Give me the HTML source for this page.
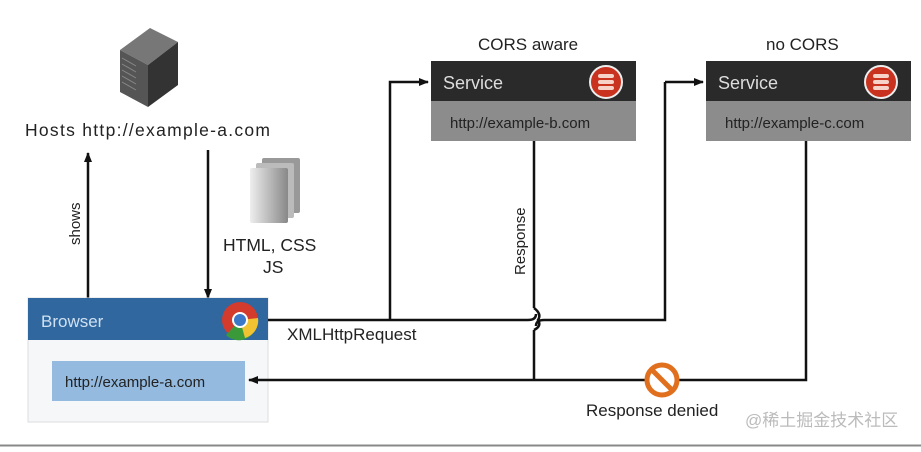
<!DOCTYPE html>
<html><head><meta charset="utf-8"><style>
body{margin:0;width:921px;height:447px;background:#fff;overflow:hidden;font-family:"Liberation Sans",Arial,sans-serif}
</style></head><body>
<svg width="921" height="447" viewBox="0 0 921 447" xmlns="http://www.w3.org/2000/svg" font-family="Liberation Sans, Arial, sans-serif">
<defs>
<marker id="a" markerWidth="10" markerHeight="10" refX="9" refY="5" orient="auto" markerUnits="userSpaceOnUse"><path d="M0,1 L10,5 L0,9 Z" fill="#111"/></marker>
<linearGradient id="doc" x1="0" x2="1"><stop offset="0" stop-color="#eee"/><stop offset="1" stop-color="#888"/></linearGradient>
</defs>
<!-- server icon -->
<polygon points="120,50 150,28 178,42 148,65" fill="#777"/>
<polygon points="120,50 148,65 148,107 120,92" fill="#555"/>
<polygon points="148,65 178,42 178,85 148,107" fill="#333"/>
<g stroke="#888" stroke-width="1"><line x1="122" y1="58" x2="136" y2="66"/><line x1="122" y1="64" x2="136" y2="72"/><line x1="122" y1="70" x2="136" y2="78"/><line x1="122" y1="76" x2="136" y2="84"/><line x1="122" y1="82" x2="136" y2="90"/></g>
<text x="25" y="136" font-size="17.5" fill="#222" textLength="245">Hosts http://example-a.com</text>
<!-- docs -->
<rect x="262" y="158" width="38" height="55" fill="#999" rx="2"/>
<rect x="256" y="163" width="38" height="55" fill="#bbb" rx="2"/>
<rect x="250" y="168" width="38" height="55" fill="url(#doc)" rx="2"/>
<text x="223" y="251" font-size="17.5" fill="#222">HTML, CSS</text>
<text x="263" y="273" font-size="17.5" fill="#222">JS</text>
<!-- arrows shows / down -->
<line x1="88" y1="300" x2="88" y2="153" stroke="#111" stroke-width="2.5" marker-end="url(#a)"/>
<text transform="translate(80,245) rotate(-90)" font-size="15" fill="#222">shows</text>
<line x1="208" y1="150" x2="208" y2="298" stroke="#111" stroke-width="2.5" marker-end="url(#a)"/>
<!-- service boxes -->
<text x="478" y="50" font-size="17" fill="#222">CORS aware</text>
<rect x="431" y="61" width="205" height="40" fill="#2a2a2a"/>
<rect x="431" y="101" width="205" height="40" fill="#8c8c8c"/>
<text x="443" y="89" font-size="18" fill="#ddd">Service</text>
<text x="450" y="128" font-size="15" fill="#222">http://example-b.com</text>
<circle cx="606" cy="82" r="16" fill="#c8321f" stroke="#eee" stroke-width="2"/>
<g fill="#f6d2c8"><rect x="598" y="74" width="16" height="4" rx="2"/><rect x="598" y="80" width="16" height="4" rx="2"/><rect x="598" y="86" width="16" height="4" rx="2"/></g>
<text x="766" y="50" font-size="17" fill="#222">no CORS</text>
<rect x="706" y="61" width="205" height="40" fill="#2a2a2a"/>
<rect x="706" y="101" width="205" height="40" fill="#8c8c8c"/>
<text x="718" y="89" font-size="18" fill="#ddd">Service</text>
<text x="725" y="128" font-size="15" fill="#222">http://example-c.com</text>
<circle cx="881" cy="82" r="16" fill="#c8321f" stroke="#eee" stroke-width="2"/>
<g fill="#f6d2c8"><rect x="873" y="74" width="16" height="4" rx="2"/><rect x="873" y="80" width="16" height="4" rx="2"/><rect x="873" y="86" width="16" height="4" rx="2"/></g>
<!-- browser -->
<rect x="28" y="298" width="240" height="124" fill="#f5f7f9" stroke="#ddd"/>
<rect x="28" y="298" width="240" height="42" fill="#30679f"/>
<text x="41" y="327" font-size="17" fill="#cfe0f2">Browser</text>
<circle cx="240" cy="320" r="18" fill="#d33b2c"/>
<path d="M240,320 L255,330 A18,18 0 0 1 226,335 Z" fill="#3a9a3a"/>
<path d="M240,320 L258,318 A18,18 0 0 1 245,338 Z" fill="#f1c232"/>
<circle cx="240" cy="320" r="8" fill="#fff"/>
<circle cx="240" cy="320" r="6" fill="#3b78c8"/>
<rect x="52" y="361" width="193" height="40" fill="#94badf"/>
<text x="65" y="387" font-size="15" fill="#222">http://example-a.com</text>
<!-- request lines -->
<g fill="none" stroke="#111" stroke-width="2.5">
<path d="M268,320 L528,320 Q536,320 536,314 M536,326 Q536,320 544,320 L665,320 L665,82" />
<path d="M390,320 L390,82 L428,82" marker-end="url(#a)"/>
<path d="M665,82 L703,82" marker-end="url(#a)"/>
<path d="M534,141 L534,308 M534,330 L534,380"/>
<path d="M806,141 L806,380 L249,380" marker-end="url(#a)"/>
</g>
<path d="M534,308 Q542,314 538,320 Q542,326 534,330" fill="none" stroke="#111" stroke-width="2.5"/>
<text transform="translate(525,275) rotate(-90)" font-size="15" fill="#222">Response</text>
<text x="287" y="340" font-size="17" fill="#222">XMLHttpRequest</text>
<!-- denied -->
<circle cx="662" cy="380" r="15" fill="#fff" stroke="#e0701e" stroke-width="5"/>
<line x1="652" y1="370" x2="672" y2="390" stroke="#e0701e" stroke-width="5"/>
<text x="586" y="416" font-size="17" fill="#222">Response denied</text>
<text x="745" y="426" font-size="17" fill="#bbb" font-family="Liberation Sans, Noto Sans CJK SC, sans-serif">@稀土掘金技术社区</text>
<line x1="0" y1="445.5" x2="921" y2="445.5" stroke="#888" stroke-width="2"/>
</svg>
</body></html>
